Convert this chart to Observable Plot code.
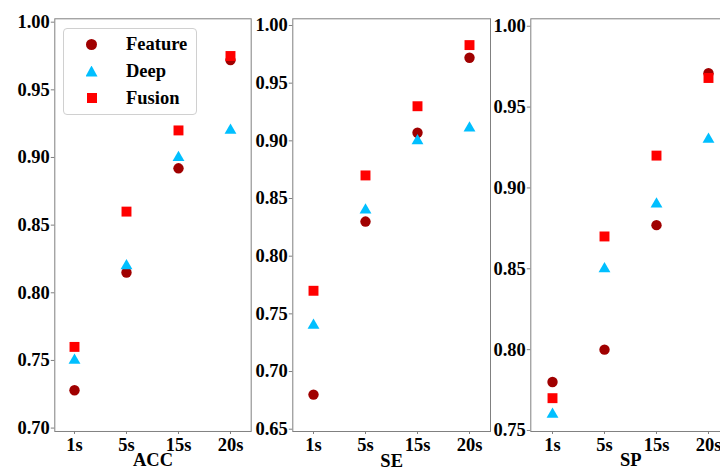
<!DOCTYPE html>
<html><head><meta charset="utf-8">
<script src="https://cdn.jsdelivr.net/npm/d3@7"></script>
<script src="https://cdn.jsdelivr.net/npm/@observablehq/plot@0.6"></script>
<style>
body{margin:0;background:#fff}
#wrap{position:relative;width:720px;height:471px;overflow:hidden;background:#fff}
#wrap svg{position:absolute;top:0;overflow:visible}
.legend{position:absolute;left:63px;top:28px;width:132px;height:85px;border:1px solid #d0d0d0;border-radius:4px;background:#fff;
  font-family:"Liberation Serif","Times New Roman",serif;font-weight:bold;font-size:18.5px;color:#000}
.row{position:absolute;left:0;height:20px;line-height:20px}
.row span.t{position:absolute;left:62px;top:0;white-space:nowrap}
.sym{position:absolute}
</style></head><body><div id="wrap"></div>
<script>
const durations = ["1s", "5s", "15s", "20s"];
const methods = ["Feature", "Deep", "Fusion"];
const metricNames = ["ACC", "SE", "SP"];

const accFeature = [0.728, 0.815, 0.892, 0.972];
const accDeep    = [0.750, 0.820, 0.900, 0.920];
const accFusion  = [0.760, 0.860, 0.920, 0.975];

const seFeature = [0.680, 0.830, 0.907, 0.972];
const seDeep    = [0.740, 0.840, 0.900, 0.911];
const seFusion  = [0.770, 0.870, 0.930, 0.983];

const spFeature = [0.780, 0.800, 0.877, 0.971];
const spDeep    = [0.760, 0.850, 0.890, 0.930];
const spFusion  = [0.770, 0.870, 0.920, 0.968];

const accTicks = [0.70, 0.75, 0.80, 0.85, 0.90, 0.95, 1.00];
const seTicks  = [0.65, 0.70, 0.75, 0.80, 0.85, 0.90, 0.95, 1.00];
const spTicks  = [0.75, 0.80, 0.85, 0.90, 0.95, 1.00];

const colors = {Feature: "#a00000", Deep: "#00bfff", Fusion: "#ff0000"};
const symbols = {Feature: "circle", Deep: "triangle", Fusion: "square"};
const sizes = {Feature: 5.2, Deep: 4.4, Fusion: 5.6};

const seriesByMetric = {
  ACC: [accFeature, accDeep, accFusion],
  SE: [seFeature, seDeep, seFusion],
  SP: [spFeature, spDeep, spFusion]
};
const ticksByMetric = {ACC: accTicks, SE: seTicks, SP: spTicks};

const layout = {
  ACC: {left: 0, marginLeft: 54.3, frameWidth: 196.4, domain: [0.6975, 1.0025], padding: 0.375},
  SE:  {left: 252, marginLeft: 40.3, frameWidth: 197.7, domain: [0.648, 1.0058], padding: 0.385},
  SP:  {left: 490, marginLeft: 40.3, frameWidth: 200, domain: [0.7494, 1.0046], padding: 0.40}
};

const wrap = document.getElementById("wrap");
const fontStyle = {fontFamily: "'Liberation Serif','Times New Roman',serif", fontWeight: "bold", fontSize: "18.5px", color: "#000", background: "transparent"};

for (const metric of metricNames) {
  const L = layout[metric];
  const rows = [];
  seriesByMetric[metric].forEach((vals, i) => {
    vals.forEach((v, j) => rows.push({duration: durations[j], method: methods[i], value: v}));
  });
  const marks = [Plot.frame({stroke: "#808080", strokeWidth: 1})];
  for (const m of methods) {
    marks.push(Plot.dot(rows.filter(d => d.method === m), {
      x: "duration", y: "value", symbol: () => symbols[m], r: sizes[m], fill: colors[m], stroke: "none"
    }));
  }
  marks.push(Plot.axisY({ticks: ticksByMetric[metric], tickFormat: d3.format(".2f"), tickSize: 3.5, tickPadding: 1.5, stroke: "#808080", label: null}));
  marks.push(Plot.axisX({tickSize: 3, tickPadding: 3, stroke: "#808080", label: metric, labelAnchor: "center", labelArrow: "none", labelOffset: 35}));
  const chart = Plot.plot({
    width: L.marginLeft + L.frameWidth + 1,
    height: 471,
    marginLeft: L.marginLeft,
    marginRight: 1,
    marginTop: 18.3,
    marginBottom: 40,
    style: fontStyle,
    x: {type: "point", domain: durations, padding: L.padding},
    y: {domain: L.domain},
    symbol: {type: "identity"},
    marks
  });
  chart.style.left = L.left + "px";
  wrap.appendChild(chart);
}

// legend (HTML)
const legend = document.createElement("div");
legend.className = "legend";
methods.forEach((m, i) => {
  const row = document.createElement("div");
  row.className = "row";
  row.style.top = (5 + i * 27) + "px";
  row.style.width = "130px";
  const s = document.createElement("div");
  s.className = "sym";
  if (m === "Feature") {
    Object.assign(s.style, {left: "22px", top: "4.5px", width: "11px", height: "11px", borderRadius: "50%", background: colors[m]});
  } else if (m === "Deep") {
    Object.assign(s.style, {left: "21.5px", top: "4.5px", width: "12px", height: "11px", background: colors[m], clipPath: "polygon(50% 0, 100% 100%, 0 100%)"});
  } else {
    Object.assign(s.style, {left: "22.5px", top: "5px", width: "10px", height: "10px", background: colors[m]});
  }
  const t = document.createElement("span");
  t.className = "t";
  t.textContent = m;
  row.appendChild(s);
  row.appendChild(t);
  legend.appendChild(row);
});
wrap.appendChild(legend);
</script>
</body></html>
